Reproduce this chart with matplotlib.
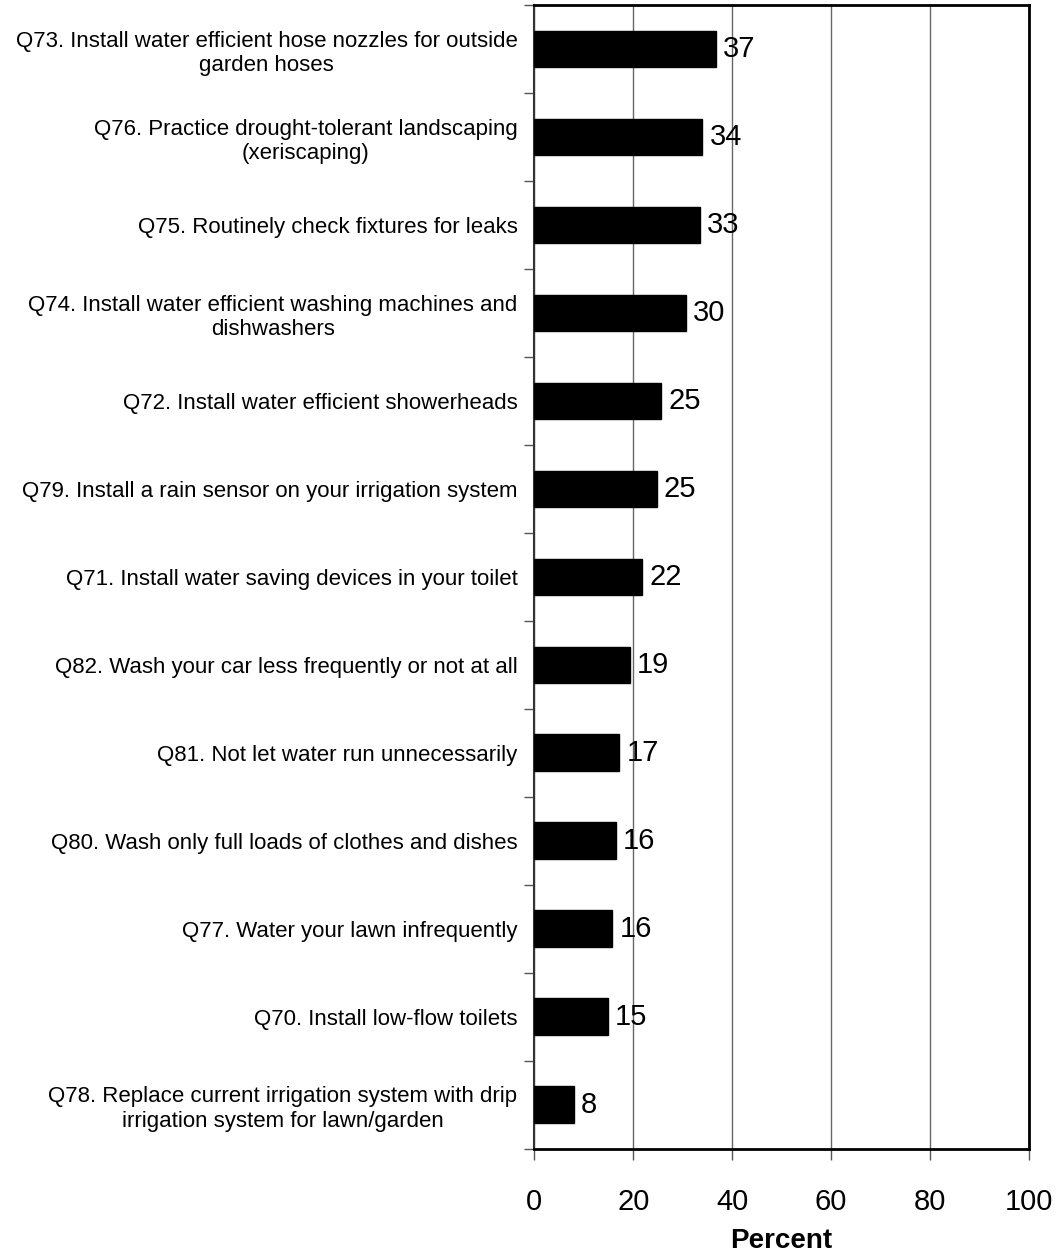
import matplotlib
matplotlib.use('Agg')
import matplotlib.pyplot as plt
import numpy as np

plt.rcParams['font.family'] = ['Liberation Sans', 'DejaVu Sans']

categories = [
    'Q73. Install water efficient hose nozzles for outside\ngarden hoses',
    'Q76. Practice drought-tolerant landscaping\n(xeriscaping)',
    'Q75. Routinely check fixtures for leaks',
    'Q74. Install water efficient washing machines and\ndishwashers',
    'Q72. Install water efficient showerheads',
    'Q79. Install a rain sensor on your irrigation system',
    'Q71. Install water saving devices in your toilet',
    'Q82. Wash your car less frequently or not at all',
    'Q81. Not let water run unnecessarily',
    'Q80. Wash only full loads of clothes and dishes',
    'Q77. Water your lawn infrequently',
    'Q70. Install low-flow toilets',
    'Q78. Replace current irrigation system with drip\nirrigation system for lawn/garden',
]
values = [36.7, 34.0, 33.5, 30.6, 25.7, 24.8, 21.8, 19.3, 17.2, 16.5, 15.8, 14.9, 8.0]
labels = ['37', '34', '33', '30', '25', '25', '22', '19', '17', '16', '16', '15', '8']
xticks = [0, 20, 40, 60, 80, 100]

fig = plt.figure(figsize=(10.58, 12.55), dpi=100)
ax = fig.add_axes([0.505, 0.0845, 0.4675, 0.9115])

n = len(categories)
y = np.arange(n)
ax.barh(y, values, height=0.42, color='black', edgecolor='black', zorder=3)

for yi, v, lab in zip(y, values, labels):
    ax.text(v + 1.4, yi, lab, va='center', ha='left', fontsize=21, zorder=4)

ax.set_ylim(n - 0.5, -0.5)
ax.set_xlim(0, 100)

ax.set_yticks(y)
ax.set_yticklabels(categories, fontsize=16, multialignment='center', linespacing=1.2)
ax.tick_params(axis='y', which='major', length=0, pad=12)
ax.set_yticks(np.arange(n + 1) - 0.5, minor=True)
ax.tick_params(axis='y', which='minor', length=7, width=1, color='#555555')

ax.set_xticks(xticks)
ax.set_xticklabels([str(t) for t in xticks], fontsize=21)
ax.tick_params(axis='x', length=8, width=1, color='#555555', pad=20)

ax.grid(axis='x', color='#666666', linewidth=1, zorder=0)

for side in ['top', 'right', 'bottom']:
    ax.spines[side].set_linewidth(2)
    ax.spines[side].set_color('black')
ax.spines['left'].set_linewidth(1.5)
ax.spines['left'].set_color('#333333')

ax.set_xlabel('Percent', fontsize=20, fontweight='bold', labelpad=9)

fig.savefig('out.png', dpi=100)
